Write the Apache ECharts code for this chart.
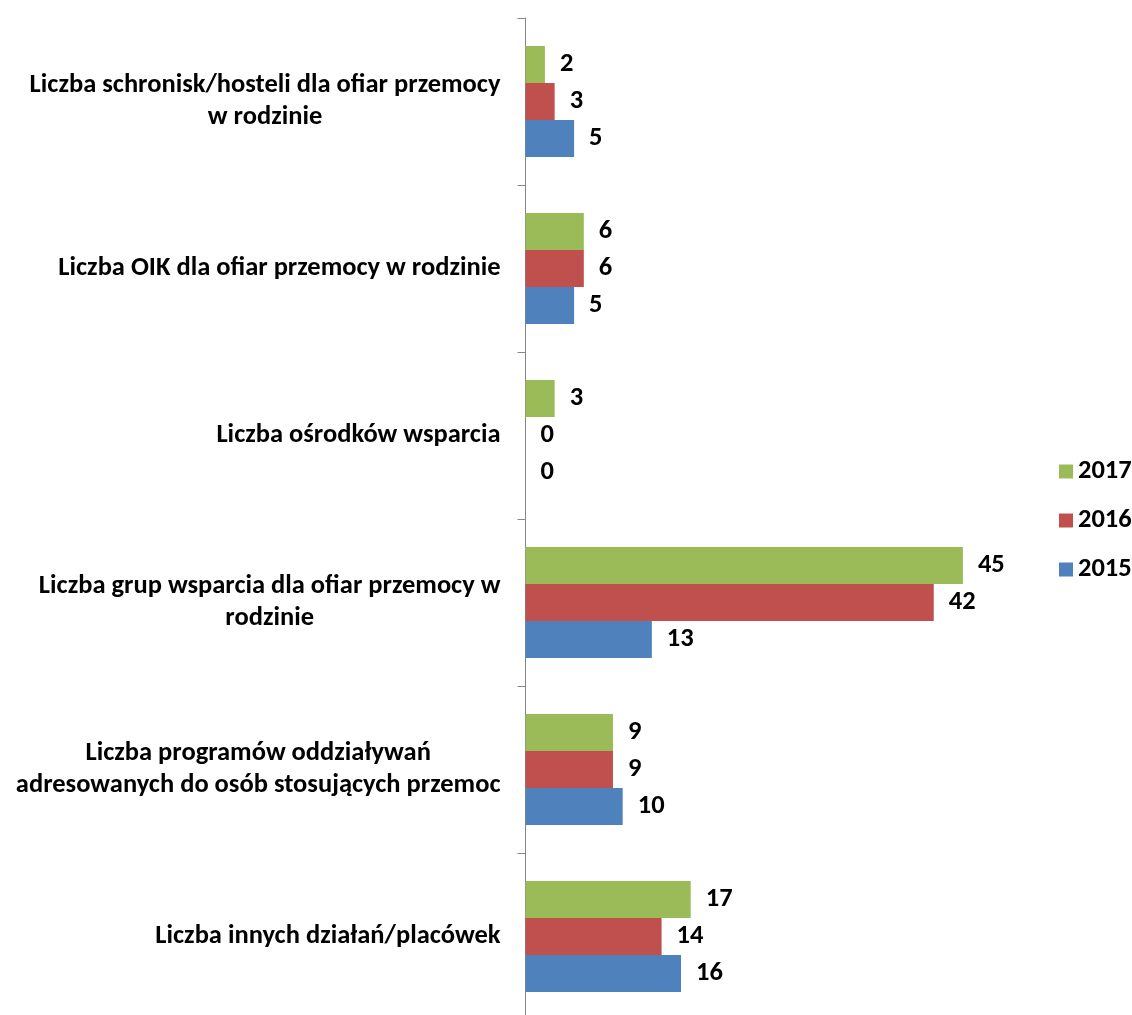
<!DOCTYPE html>
<html>
<head>
<meta charset="utf-8">
<script src="https://cdn.jsdelivr.net/npm/echarts@6/dist/echarts.min.js"></script>
<style>
  html, body { margin: 0; padding: 0; background: #fff; }
  #chart { width: 1132px; height: 1015px; }
</style>
</head>
<body>
<div id="chart"></div>
<script>
// kategorie (od góry)
const categories = [
  'Liczba schronisk/hosteli dla ofiar przemocy\nw rodzinie',
  'Liczba OIK dla ofiar przemocy w rodzinie',
  'Liczba ośrodków wsparcia',
  'Liczba grup wsparcia dla ofiar przemocy w\nrodzinie',
  'Liczba programów oddziaływań\nadresowanych do osób stosujących przemoc',
  'Liczba innych działań/placówek'
]
const years = ['2017', '2016', '2015']
const values2017 = [2, 6, 3, 45, 9, 17]
const values2016 = [3, 6, 0, 42, 9, 14]
const values2015 = [5, 5, 0, 13, 10, 16]
const colors = { '2017': '#9BBB59', '2016': '#C0504D', '2015': '#4F81BD' }

const FONT = "Carlito, 'Open Sans', sans-serif"
const seriesData = { '2017': values2017, '2016': values2016, '2015': values2015 }

const chart = echarts.init(document.getElementById('chart'))

const option = {
  animation: false,
  grid: { left: 525.5, top: 18, width: 486, height: 1002, outerBoundsMode: 'none', containLabel: false },
  legend: {
    data: years,
    orient: 'vertical',
    left: 1054,
    top: 453,
    itemWidth: 14,
    itemHeight: 14,
    itemGap: 22,
    icon: 'rect',
    textStyle: { fontFamily: FONT, fontWeight: 'bold', fontSize: 26.5, color: '#000' }
  },
  xAxis: { type: 'value', min: 0, max: 50, show: false },
  yAxis: {
    type: 'category',
    inverse: true,
    data: categories,
    axisLine: { show: true, lineStyle: { color: '#868686', width: 1 } },
    axisTick: { show: true, length: 8, lineStyle: { color: '#868686' } },
    axisLabel: {
      margin: 25,
      formatter: (v) => v.split('\n').map(l => '{c|' + l + '}').join('\n'),
      rich: {
        c: { align: 'center', fontFamily: FONT, fontWeight: 'bold', fontSize: 26.5, color: '#000', lineHeight: 32 }
      }
    }
  },
  series: years.map(y => ({
    name: y,
    type: 'bar',
    data: seriesData[y],
    barWidth: 37,
    barGap: '0%',
    itemStyle: { color: colors[y] },
    label: {
      show: true,
      position: 'right',
      distance: 15,
      fontFamily: FONT,
      fontWeight: 'bold',
      fontSize: 26.5,
      color: '#000'
    }
  }))
}

chart.setOption(option)
</script>
</body>
</html>
